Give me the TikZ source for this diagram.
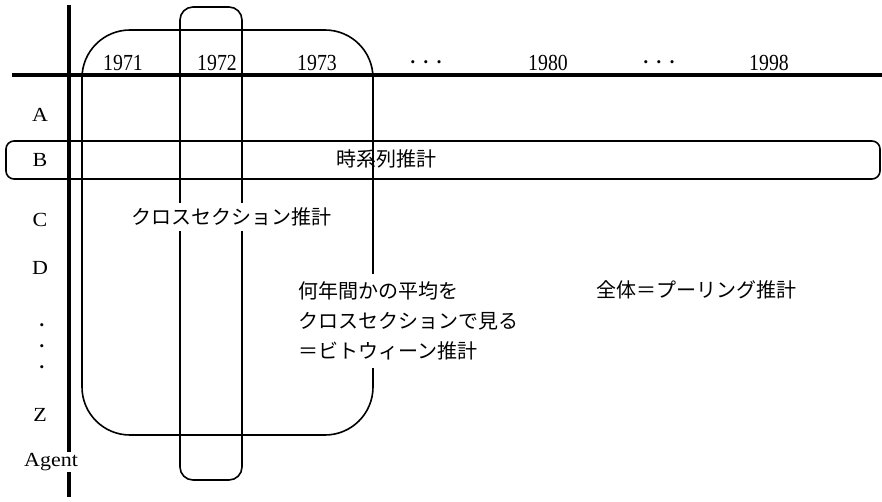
\documentclass[tikz,border=0pt]{standalone}
\usepackage{fontspec}
\setmainfont{Liberation Serif}
\newfontfamily\jp{Noto Sans CJK JP}
\newfontfamily\yearfont[FakeStretch=0.86]{Liberation Serif}
\newfontfamily\rowfont[FakeStretch=1.1]{Liberation Serif}
\begin{document}
\begin{tikzpicture}[x=1pt,y=-1pt,
  axis/.style={line width=3.4pt},
  frame/.style={line width=1.6pt},
  rowlab/.style={font=\rowfont\fontsize{20}{24}\selectfont, inner sep=1pt},
  yearlab/.style={font=\yearfont\fontsize{23}{26}\selectfont, inner sep=1pt},
  dotlab/.style={font=\fontsize{13}{14}\selectfont, inner sep=0pt},
  jptext/.style={font=\jp\fontsize{20}{30}\selectfont, inner sep=1pt}]
\useasboundingbox (0,0) rectangle (882,502);
% regions
\draw[frame, rounded corners=48pt] (82,30) rectangle (373,435);
\draw[frame, rounded corners=13pt] (180,7) rectangle (242,480);
\draw[frame, rounded corners=8pt] (6,141) rectangle (880,179);
% axes
\coordinate (vt) at (69,5);
\coordinate (vb) at (69,497);
\coordinate (hl) at (12,75);
\coordinate (hr) at (882,75);
\draw[axis] (vt) -- (vb);
\draw[axis] (hl) -- (hr);
% years
\node[yearlab] (y1971) at (123,63) {1971};
\node[yearlab] (y1972) at (217,63) {1972};
\node[yearlab] (y1973) at (317,63) {1973};
\node[dotlab] (hd1) at (426,64) {•\hspace{8.5pt}•\hspace{8.5pt}•};
\node[yearlab] (y1980) at (548,63) {1980};
\node[dotlab] (hd2) at (659,64) {•\hspace{8.5pt}•\hspace{8.5pt}•};
\node[yearlab] (y1998) at (769,63) {1998};
% rows
\node[rowlab] (rA) at (40,115) {A};
\node[rowlab] (rB) at (40,160) {B};
\node[rowlab] (rC) at (40,220) {C};
\node[rowlab] (rD) at (40,268) {D};
\node[dotlab] (vd1) at (42,327) {•};
\node[dotlab] (vd2) at (42,348) {•};
\node[dotlab] (vd3) at (42,369) {•};
\node[rowlab] (rZ) at (40,415) {Z};
\node[rowlab, fill=white] (rAgent) at (51,462) {Agent};
% texts
\node[jptext, anchor=west] (ts) at (335,159) {時系列推計};
\node[jptext, fill=white, inner ysep=5pt] (cs) at (231,217) {クロスセクション推計};
\node[jptext, fill=white, align=left, anchor=west, inner ysep=8pt] (bw) at (297,321) {何年間かの平均を\\クロスセクションで見る\\＝ビトウィーン推計};
\node[jptext, anchor=west] (pool) at (595,290) {全体＝プーリング推計};
\end{tikzpicture}
\end{document}
